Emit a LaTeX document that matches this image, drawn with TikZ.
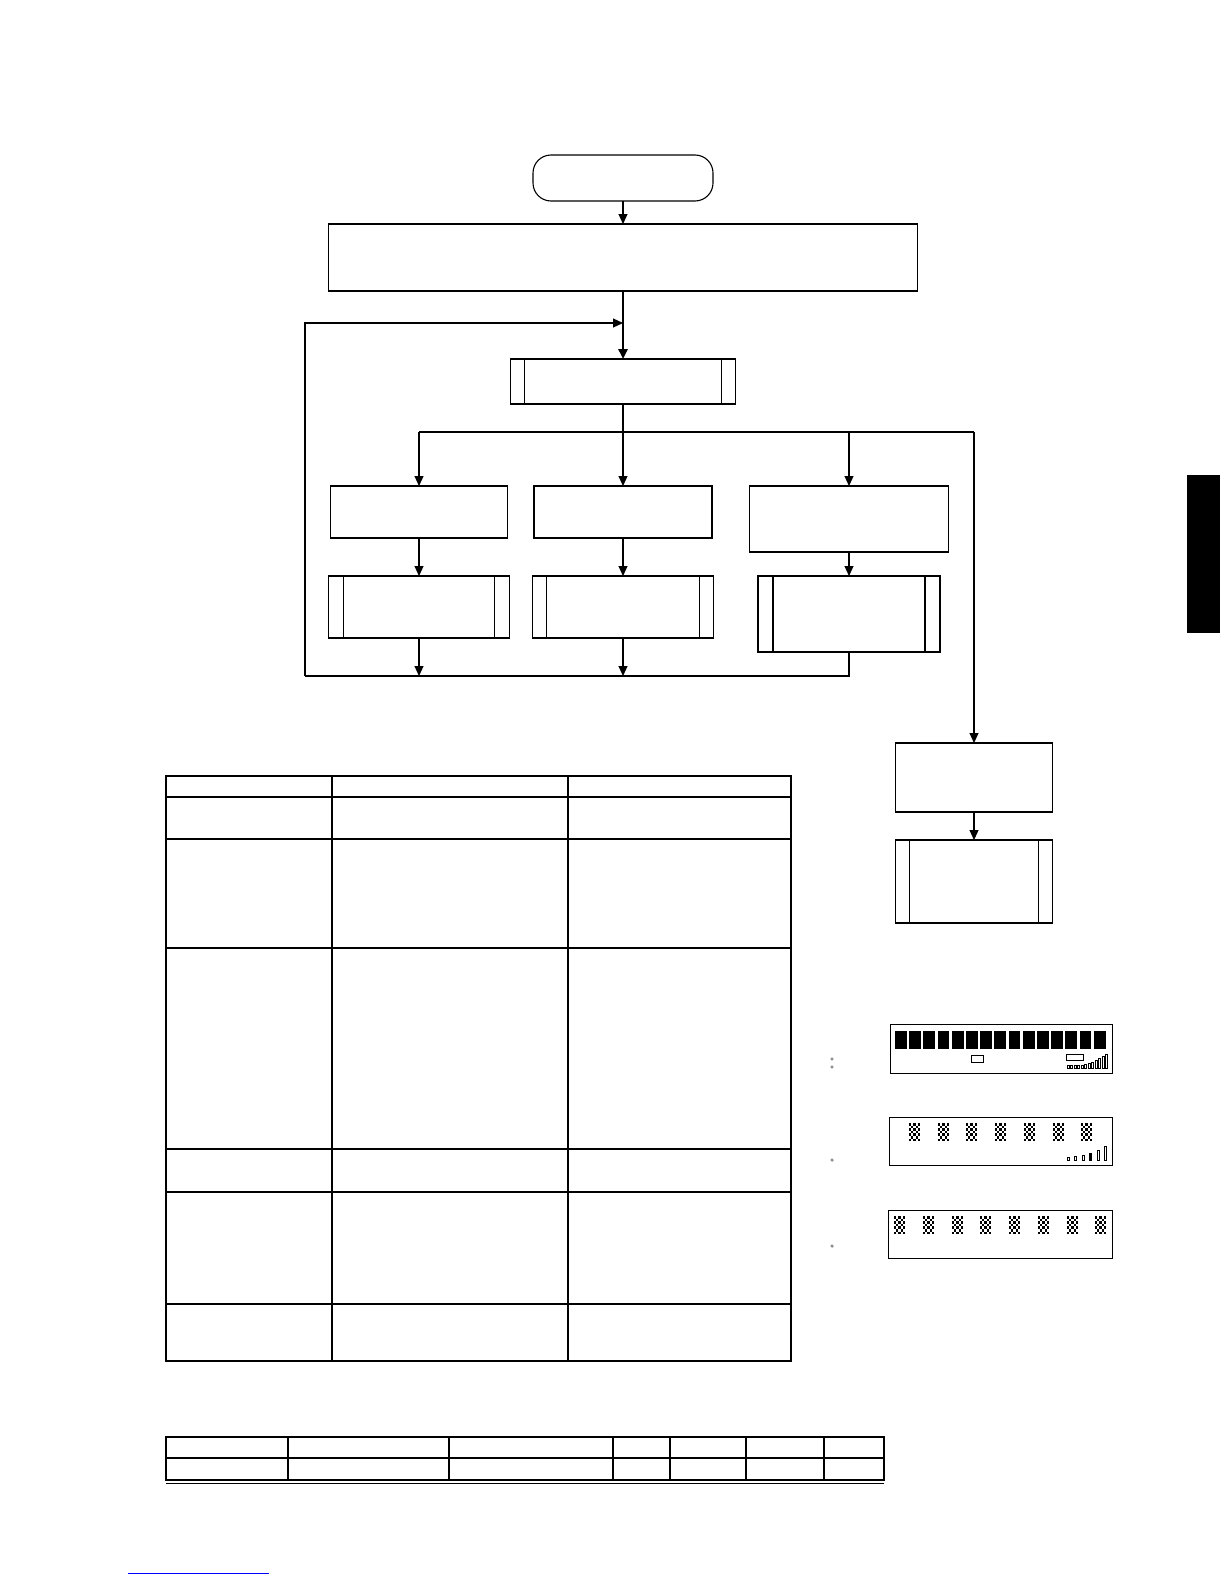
\documentclass[tikz,border=0pt]{standalone}
\usetikzlibrary{arrows.meta}
\begin{document}
\begin{tikzpicture}[x=0.5pt,y=-0.5pt,
  every node/.style={inner sep=0pt,outer sep=0pt},
  proc/.style={draw,line width=0.55pt,rectangle},
  term/.style={draw,line width=0.55pt,rectangle,rounded corners=9pt},
  line/.style={line width=0.55pt},
  arr/.style={line width=0.55pt,-{Triangle[width=4.5pt,length=5pt]}},
  tbl/.style={line width=0.6pt},
  tblout/.style={line width=1.1pt},
  lcd/.style={draw,line width=0.5pt},
  dotmark/.style={draw=black!60,line width=0.3pt}]
\useasboundingbox (0,0) rectangle (1224,1584);
\fill[white] (0,0) rectangle (1224,1584);

% black tab
\fill (1187,475) rectangle (1220,633);

% ---------- flowchart nodes ----------
\node[term,minimum width=90pt,minimum height=23pt] (start) at (623,178) {};
\node[proc,minimum width=294.5pt,minimum height=33.5pt] (init) at (623,257.5) {};
\node[proc,minimum width=112.5pt,minimum height=22.5pt] (sub0) at (623,381.5) {};
\node[proc,minimum width=88.5pt,minimum height=26pt] (a1) at (419,512) {};
\node[proc,minimum width=89pt,minimum height=26pt] (a2) at (623,512) {};
\node[proc,minimum width=99.5pt,minimum height=33pt] (a3) at (849,519) {};
\node[proc,minimum width=90.5pt,minimum height=31pt] (b1) at (419,607) {};
\node[proc,minimum width=90.5pt,minimum height=31pt] (b2) at (623,607) {};
\node[proc,minimum width=91pt,minimum height=38pt] (b3) at (849,614) {};
\node[proc,minimum width=78.5pt,minimum height=34.5pt] (a4) at (974,777.5) {};
\node[proc,minimum width=78.5pt,minimum height=41.5pt] (b4) at (974,881.5) {};

% subroutine inner bars
\foreach \n/\o in {sub0/14,b1/15,b2/14,b3/15,b4/14}{
  \draw[line] ([xshift=\o*0.5pt]\n.north west) -- ([xshift=\o*0.5pt]\n.south west);
  \draw[line] ([xshift=-\o*0.5pt]\n.north east) -- ([xshift=-\o*0.5pt]\n.south east);
}

% ---------- connector coordinates ----------
\coordinate (merge) at (623,323);
\coordinate (loopTL) at (305,323);
\coordinate (loopBL) at (305,676);
\coordinate (bsplit) at (623,432);
\coordinate (bL) at (419,432);
\coordinate (bR) at (849,432);
\coordinate (bF) at (974,432);
\coordinate (jL) at (419,676);
\coordinate (jM) at (623,676);
\coordinate (jR) at (849,676);

% ---------- connectors ----------
\draw[arr] (start.south) -- (init.north);
\draw[line width=1.2pt,-{Triangle[width=4.5pt,length=5pt]}] (init.south) -- (sub0.north);
\draw[arr] (loopBL) -- (loopTL) -- (merge);
\draw[line] (sub0.south) -- (bsplit);
\draw[line] (bL) -- (bF);
\draw[arr] (bL) -- (a1.north);
\draw[arr] (bsplit) -- (a2.north);
\draw[arr] (bR) -- (a3.north);
\draw[arr] (bF) -- (a4.north);
\draw[arr] (a1.south) -- (b1.north);
\draw[arr] (a2.south) -- (b2.north);
\draw[arr] (a3.south) -- (b3.north);
\draw[arr] (a4.south) -- (b4.north);
\draw[arr] (b1.south) -- (jL);
\draw[arr] (b2.south) -- (jM);
\draw[line] (b3.south) -- (jR) -- (loopBL);

% ---------- main table ----------
\foreach \y in {797,839,948,1149,1192,1304}{\draw[tbl] (166,\y) -- (791,\y);}
\foreach \x in {332,568}{\draw[tbl] (\x,776) -- (\x,1361);}
\draw[tblout] (166,776) rectangle (791,1361);

% ---------- bottom table ----------
\draw[tbl] (166,1458) -- (884,1458);
\foreach \x in {288,449,613,670,746,824}{\draw[tbl] (\x,1437) -- (\x,1480);}
\draw[tblout] (166,1437) rectangle (884,1480);
\draw[line width=0.4pt] (166,1483) -- (884,1483);

% ---------- LCD displays ----------
\draw[lcd] (890,1024) rectangle (1112,1073);
\foreach \k in {0,...,14}{\fill ({895+\k*14.2},1031) rectangle ({906.7+\k*14.2},1049);}
\draw[line width=0.5pt] (971,1055) rectangle (983,1062);
\draw[line width=0.5pt] (1066,1054) rectangle (1083,1060);
\foreach \k/\h in {0/2.5,1/2.5,2/2.5,3/2.5,4/2.5,5/3.5,6/5,7/6,8/8,9/10,10/12,11/14}{
  \draw[line width=0.4pt] ({1067+\k*3.5},1068) rectangle ({1069+\k*3.5},{1068-\h});}
\draw[dotmark] (832,1059) circle (1.3);
\draw[dotmark] (832,1067) circle (1.3);

\draw[lcd] (889,1117) rectangle (1112,1165);
\foreach \cx in {909,938,966,995,1024,1053,1081}{
  \foreach \i in {0,...,4}{\foreach \j in {0,...,6}{
    \pgfmathtruncatemacro\p{mod(\i+\j,2)}
    \ifnum\p=0 \fill ({\cx+\i*2.2},{1123+\j*2.6}) rectangle ({\cx+\i*2.2+2.2},{1123+\j*2.6+2.6});\fi
  }}}
\foreach \x/\h in {1067/3,1074/4,1082/5,1089/7,1097/10,1104/14}{
  \draw[line width=0.45pt] (\x,1160) rectangle ({\x+2.5},{1160-\h});}
\fill (1089,1160) rectangle (1091.5,1153);
\draw[dotmark] (832,1160) circle (1.3);

\draw[lcd] (888,1210) rectangle (1112,1258);
\foreach \cx in {894,923,952,980,1009,1038,1067,1095}{
  \foreach \i in {0,...,4}{\foreach \j in {0,...,6}{
    \pgfmathtruncatemacro\p{mod(\i+\j,2)}
    \ifnum\p=0 \fill ({\cx+\i*2.2},{1216+\j*2.6}) rectangle ({\cx+\i*2.2+2.2},{1216+\j*2.6+2.6});\fi
  }}}
\draw[dotmark] (832,1246) circle (1.3);

% link underline
\draw[blue,line width=0.5pt] (128,1573) -- (269,1573);
\end{tikzpicture}
\end{document}
